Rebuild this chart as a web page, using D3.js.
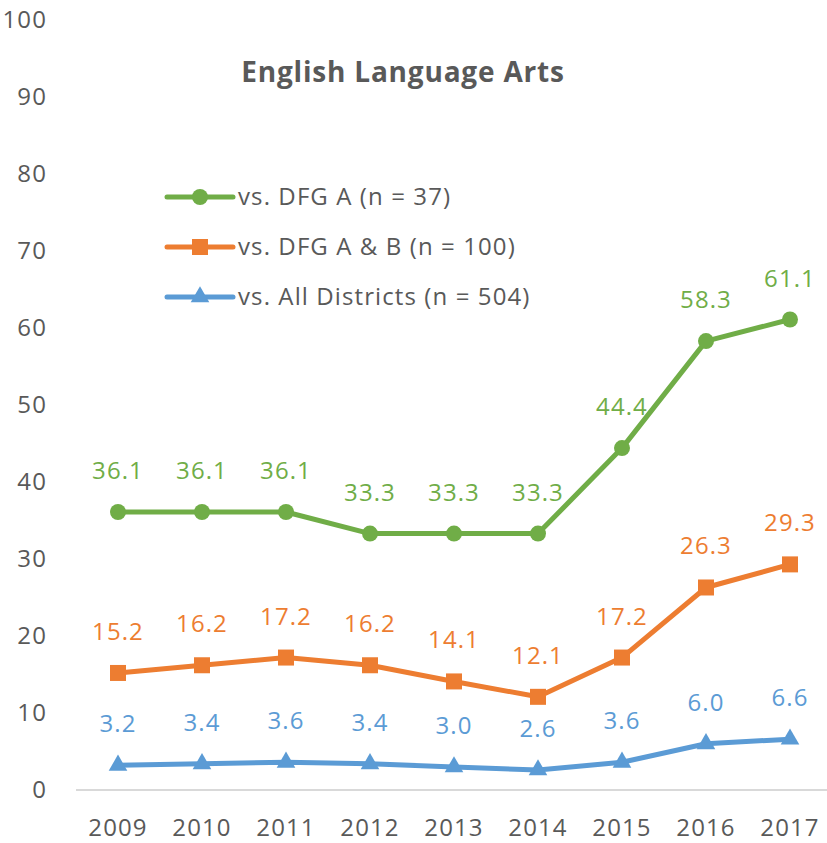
<html>
<head>
  <meta charset="utf-8">
  <style>
    body { margin: 0; background: #fff; }
    text { font-family: 'Open Sans', 'Liberation Sans', Arial, sans-serif; }
  </style>
</head>
<body>
<script src='https://cdn.jsdelivr.net/npm/d3@7/dist/d3.min.js'></script>
<script>
var years = ['2009', '2010', '2011', '2012', '2013', '2014', '2015', '2016', '2017']
var dfgA = [36.1, 36.1, 36.1, 33.3, 33.3, 33.3, 44.4, 58.3, 61.1]
var dfgAB = [15.2, 16.2, 17.2, 16.2, 14.1, 12.1, 17.2, 26.3, 29.3]
var allDistricts = [3.2, 3.4, 3.6, 3.4, 3.0, 2.6, 3.6, 6.0, 6.6]
var yTicks = [0, 10, 20, 30, 40, 50, 60, 70, 80, 90, 100]

var series = [
  { name: 'vs. DFG A (n = 37)', values: dfgA, color: '#70ad47', shape: 'circle' },
  { name: 'vs. DFG A & B (n = 100)', values: dfgAB, color: '#ed7d31', shape: 'square' },
  { name: 'vs. All Districts (n = 504)', values: allDistricts, color: '#5b9bd5', shape: 'triangle' }
]

var width = 827
var height = 843
var fontSize = 24
var spacing = 1.1
var svg = d3.select('body').append('svg')
  .attr('width', width)
  .attr('height', height)

var x = d3.scalePoint()
  .domain(years)
  .range([118, 790])
var y = d3.scaleLinear()
  .domain([0, 100])
  .range([790, 20])

// axis line
svg.append('line')
  .attr('x1', 76).attr('x2', 827)
  .attr('y1', y(0)).attr('y2', y(0))
  .attr('stroke', '#d9d9d9')
  .attr('stroke-width', 2)

svg.selectAll('.ytick')
  .data(yTicks)
  .enter()
  .append('text')
  .attr('class', 'ytick')
  .attr('x', 47)
  .attr('y', d => y(d))
  .attr('dy', '0.35em')
  .attr('text-anchor', 'end')
  .attr('font-size', fontSize)
  .attr('letter-spacing', spacing)
  .attr('fill', '#595959')
  .text(d => d)

svg.selectAll('.xtick')
  .data(years)
  .enter()
  .append('text')
  .attr('class', 'xtick')
  .attr('x', d => x(d))
  .attr('y', 828)
  .attr('dy', '0.35em')
  .attr('text-anchor', 'middle')
  .attr('font-size', fontSize)
  .attr('letter-spacing', spacing)
  .attr('fill', '#595959')
  .text(d => d)

svg.append('text')
  .attr('x', 403)
  .attr('y', 72)
  .attr('dy', '0.35em')
  .attr('text-anchor', 'middle')
  .attr('font-size', 28)
  .attr('font-weight', 'bold')
  .attr('letter-spacing', 0.8)
  .attr('fill', '#595959')
  .text('English Language Arts')

function marker(g, shape, color) {
  if (shape === 'circle') {
    g.append('circle').attr('r', 8).attr('fill', color)
  } else if (shape === 'square') {
    g.append('rect').attr('x', -8).attr('y', -8).attr('width', 16).attr('height', 16).attr('fill', color)
  } else {
    g.append('path').attr('d', d3.symbol().type(d3.symbolTriangle).size(150)()).attr('fill', color)
  }
}

var line = d3.line()
  .x((d, i) => x(years[i]))
  .y(d => y(d))

series.forEach(function(s) {
  svg.append('path')
    .datum(s.values)
    .attr('d', line)
    .attr('fill', 'none')
    .attr('stroke', s.color)
    .attr('stroke-width', 5)
    .attr('stroke-linejoin', 'round')
    .attr('stroke-linecap', 'round')

  s.values.forEach(function(v, i) {
    var g = svg.append('g').attr('transform', `translate(${x(years[i])},${y(v)})`)
    marker(g, s.shape, s.color)
  })

  svg.selectAll(null)
    .data(s.values)
    .enter()
    .append('text')
    .attr('x', (d, i) => x(years[i]))
    .attr('y', d => y(d) - 33)
    .attr('text-anchor', 'middle')
    .attr('font-size', fontSize)
    .attr('letter-spacing', spacing)
    .attr('fill', s.color)
    .text(d => d.toFixed(1))
})

// legend
series.forEach(function(s, i) {
  var ly = 197 + i * 50
  var g = svg.append('g')
  g.append('line')
    .attr('x1', 167).attr('x2', 233)
    .attr('y1', ly).attr('y2', ly)
    .attr('stroke', s.color)
    .attr('stroke-width', 5)
    .attr('stroke-linecap', 'round')
  var m = g.append('g').attr('transform', `translate(200,${ly})`)
  marker(m, s.shape, s.color)
  g.append('text')
    .attr('x', 238)
    .attr('y', ly)
    .attr('dy', '0.35em')
    .attr('font-size', fontSize)
    .attr('letter-spacing', spacing)
    .attr('fill', '#595959')
    .text(s.name)
})
</script>
</body>
</html>
